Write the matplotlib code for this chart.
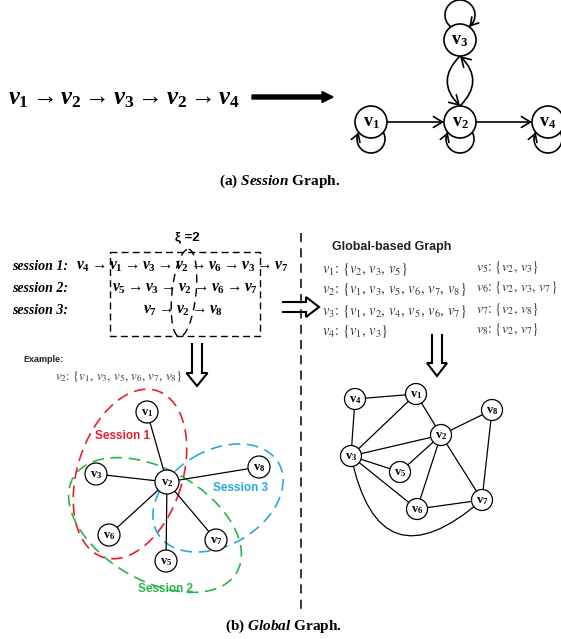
import numpy as np
import matplotlib
matplotlib.use("Agg")
import matplotlib.pyplot as plt
from matplotlib.patches import Circle, Ellipse, Rectangle, FancyArrowPatch
from matplotlib.path import Path

plt.rcParams['mathtext.fontset'] = 'custom'
plt.rcParams['mathtext.rm'] = 'Liberation Serif:bold'
plt.rcParams['mathtext.it'] = 'Liberation Serif:italic:bold'
plt.rcParams['mathtext.bf'] = 'Liberation Serif:bold'

# ---------------- data ----------------
sequence_a = [1, 2, 3, 2, 4]
graph_a_nodes = [1, 2, 3, 4]
graph_a_edges = [(1, 2), (2, 4)]
graph_a_lens = [(2, 3), (3, 2)]
graph_a_loops = [1, 2, 3, 4]

session_names = ["session 1:", "session 2:", "session 3:"]
session1 = [4, 1, 3, 2, 6, 3, 7]
session2 = [5, 3, 2, 6, 7]
session3 = [7, 2, 8]
xi = 2

example_node = 2
example_neighbors = [1, 3, 5, 6, 7, 8]
star_center = 2
star_leaves = [1, 3, 8, 6, 7, 5]
session_region_labels = ["Session 1", "Session 2", "Session 3"]

nb_v1 = [2, 3, 5]
nb_v2 = [1, 3, 5, 6, 7, 8]
nb_v3 = [1, 2, 4, 5, 6, 7]
nb_v4 = [1, 3]
nb_v5 = [2, 3]
nb_v6 = [2, 3, 7]
nb_v7 = [2, 8]
nb_v8 = [2, 7]
global_lists = {1: nb_v1, 2: nb_v2, 3: nb_v3, 4: nb_v4,
                5: nb_v5, 6: nb_v6, 7: nb_v7, 8: nb_v8}
global_nodes = [1, 2, 3, 4, 5, 6, 7, 8]
global_edges = [(4, 1), (4, 3), (1, 3), (1, 2), (3, 2), (3, 5), (3, 6),
                (2, 5), (2, 6), (2, 7), (2, 8), (8, 7), (6, 7)]
global_curved_edges = [(3, 7)]

# ---------------- layout (pixels) ----------------
pos_a = {1: (371, 122), 2: (460, 122), 3: (460, 40), 4: (548, 122)}
pos_star = {1: (147, 412), 2: (167, 482), 3: (96, 474), 8: (259, 467),
            6: (109, 535), 7: (216, 540), 5: (166, 561)}
pos_global = {4: (355, 399), 1: (416, 394), 8: (492, 410), 2: (441, 435),
              3: (351, 456), 5: (400, 472), 6: (417, 509), 7: (482, 500)}

fig = plt.figure(figsize=(5.61, 6.39), dpi=100)
ax = fig.add_axes([0, 0, 1, 1])
ax.set_xlim(0, 561)
ax.set_ylim(639, 0)
ax.axis('off')

BLACK = 'black'
GRAY = '#3a3a3a'
HEAD = '->,head_length=0.5,head_width=0.3'


def vlab(n):
    return r'$\mathbf{v}_{%d}$' % n


def node(p, r, n, fs, lw=1.0):
    ax.add_patch(Circle(p, r, fc='white', ec=BLACK, lw=lw, zorder=3))
    ax.text(p[0], p[1] + 0.5, vlab(n), ha='center', va='center', fontsize=fs, zorder=4)


def self_loop(c, r, rl, d, above=False):
    yi = (r ** 2 - rl ** 2 + d ** 2) / (2 * d)
    xi_ = np.sqrt(max(r ** 2 - yi ** 2, 0))
    t0 = np.arctan2(yi - d, xi_)
    t1 = np.pi - t0
    ts = np.linspace(t0, t1, 40)
    s = -1 if above else 1
    xs = c[0] + rl * np.cos(ts)
    ys = c[1] + s * (d + rl * np.sin(ts))
    pts = list(zip(xs, ys))
    if above:
        pts = pts[::-1]
    pts = np.array(pts)
    # body of the loop
    ax.plot(pts[:, 0], pts[:, 1], color=BLACK, lw=1.2, zorder=2)
    # small arrow head at the end, entering the node
    ax.add_patch(FancyArrowPatch(tuple(pts[-4]), tuple(pts[-1]), arrowstyle=HEAD,
                                 mutation_scale=11, lw=1.2, color=BLACK,
                                 shrinkA=0, shrinkB=0, zorder=2))


def hollow_arrow(tail, tip, sh, hh, hl, lw=1.5):
    tail = np.array(tail, float)
    tip = np.array(tip, float)
    d = (tip - tail) / np.linalg.norm(tip - tail)
    n = np.array([-d[1], d[0]])
    base = tip - d * hl
    pts = [tail + n * sh, base + n * sh, base + n * hh, tip,
           base - n * hh, base - n * sh, tail - n * sh]
    pts = np.array(pts)
    ax.plot(pts[:, 0], pts[:, 1], color=BLACK, lw=lw, solid_joinstyle='miter', zorder=5)


# ================= (a) session graph =================
seq_txt = '$' + r' \rightarrow '.join('v_{%d}' % n for n in sequence_a) + '$'
ax.text(8, 98, seq_txt, ha='left', va='center', fontsize=17.8)
ax.arrow(252, 97, 81, 0, width=4, head_width=11, head_length=11,
         length_includes_head=True, color=BLACK, zorder=2)

RA = 16
for n in graph_a_nodes:
    node(pos_a[n], RA, n, 13, lw=1.2)
for a, b in graph_a_edges:
    pa, pb = pos_a[a], pos_a[b]
    ax.add_patch(FancyArrowPatch((pa[0] + RA, pa[1]), (pb[0] - RA, pb[1]),
                                 arrowstyle=HEAD, mutation_scale=13, lw=1.2, color=BLACK,
                                 shrinkA=0, shrinkB=0, zorder=2))
for a, b in graph_a_lens:
    pa, pb = pos_a[a], pos_a[b]
    sa = 1 if pa[1] > pb[1] else -1
    ax.add_patch(FancyArrowPatch((pa[0], pa[1] - sa * RA), (pb[0], pb[1] + sa * RA),
                                 connectionstyle='arc3,rad=0.5', arrowstyle=HEAD,
                                 mutation_scale=13, lw=1.2, color=BLACK,
                                 shrinkA=0, shrinkB=0, zorder=2))
for n in graph_a_loops:
    if n == 3:
        self_loop(pos_a[n], RA, 15, 25, above=True)
    else:
        self_loop(pos_a[n], RA, 14, 17)

ax.text(280, 181, r'(a) $\mathit{Session}$ Graph.', ha='center', va='center',
        fontsize=11, family='Liberation Serif', weight='bold')

# ================= (b) global graph =================
ax.plot([301, 301], [233, 612], color=BLACK, lw=1.1, ls=(0, (6, 4)))

# sessions with window
ax.text(187, 238, '\u03be =%d' % xi, ha='center', va='center', fontsize=9.5,
        family='Liberation Sans', weight='bold')
ax.add_patch(Rectangle((110, 252), 150, 84, fill=False, ec=BLACK, lw=1.0, ls=(0, (5, 3))))
ax.add_patch(Ellipse((184, 293), 24, 88, angle=6, fill=False, ec=BLACK, lw=1.0, ls=(0, (6, 4))))

rows = [session1, session2, session3]
row_y = [266, 289, 311]
row_x = [76, 112, 143]
for name, seq, y, x in zip(session_names, rows, row_y, row_x):
    ax.text(12, y, name, ha='left', va='center', fontsize=10, family='Liberation Serif',
            style='italic', weight='bold')
    txt = '$' + r' \rightarrow '.join('v_{%d}' % n for n in seq) + '$'
    ax.text(x, y, txt, ha='left', va='center', fontsize=11.2)

hollow_arrow((283, 307), (319, 307), 5, 10, 13)
hollow_arrow((197, 344), (197, 386), 5, 10.5, 13)
hollow_arrow((437, 335), (437, 376), 5, 10, 13)

ax.text(23, 359, 'Example:', ha='left', va='center', fontsize=6.5,
        family='Liberation Sans', weight='bold', color='#222222')


def list_text(n, nbs):
    return ('$v_{%d}$: {' % n) + ', '.join('$v_{%d}$' % m for m in nbs) + '}'


ax.text(55, 376, list_text(example_node, example_neighbors), ha='left', va='center',
        fontsize=9.3, family='STIXGeneral', math_fontfamily='stix', color=GRAY)

# star graph with session regions
region_red = Ellipse((130, 474), 175, 105, angle=108, fill=False, ec='#e8202a',
                     lw=1.2, ls=(0, (7, 4)), zorder=1)
region_green = Ellipse((155, 525), 189, 111, angle=30, fill=False, ec='#2db34a',
                       lw=1.2, ls=(0, (7, 4)), zorder=1)
region_blue = Ellipse((218, 498), 140, 95, angle=-30, fill=False, ec='#29a8e0',
                      lw=1.2, ls=(0, (7, 4)), zorder=1)
for e in (region_red, region_green, region_blue):
    ax.add_patch(e)
ax.text(123, 436, session_region_labels[0], ha='center', va='center', fontsize=8.5,
        family='Liberation Sans', weight='bold', color='#e8202a')
ax.text(166, 589, session_region_labels[1], ha='center', va='center', fontsize=8.5,
        family='Liberation Sans', weight='bold', color='#2db34a')
ax.text(241, 488, session_region_labels[2], ha='center', va='center', fontsize=8.5,
        family='Liberation Sans', weight='bold', color='#29a8e0')

for leaf in star_leaves:
    pa, pb = pos_star[star_center], pos_star[leaf]
    ax.plot([pa[0], pb[0]], [pa[1], pb[1]], color=BLACK, lw=0.9, zorder=2)
for n, p in pos_star.items():
    node(p, 12 if n == star_center else 11, n, 9, lw=0.9)

# global graph lists
ax.text(332, 247, 'Global-based Graph', ha='left', va='center', fontsize=9,
        family='Liberation Sans', weight='bold', color='#222222')
left_y = {1: 269, 2: 290, 3: 311, 4: 332}
right_y = {5: 268, 6: 288, 7: 309, 8: 329}
for n in global_nodes:
    if n in left_y:
        x, y, fs = 322, left_y[n], 10.5
    else:
        x, y, fs = 476, right_y[n], 10.0
    ax.text(x, y, list_text(n, global_lists[n]), ha='left', va='center', fontsize=fs,
            family='STIXGeneral', math_fontfamily='stix', color=GRAY)

# global graph
for a, b in global_edges:
    pa, pb = pos_global[a], pos_global[b]
    ax.plot([pa[0], pb[0]], [pa[1], pb[1]], color=BLACK, lw=0.9, zorder=2)
for a, b in global_curved_edges:
    ax.add_patch(FancyArrowPatch(pos_global[a], pos_global[b], connectionstyle='arc3,rad=0.85',
                                 arrowstyle='-', lw=0.9, color=BLACK, shrinkA=0, shrinkB=0,
                                 zorder=2))
for n, p in pos_global.items():
    node(p, 10.5, n, 9, lw=0.9)

ax.text(283, 626, r'(b) $\mathit{Global}$ Graph.', ha='center', va='center',
        fontsize=11, family='Liberation Serif', weight='bold')

fig.savefig('out.png', dpi=100, facecolor='white')
